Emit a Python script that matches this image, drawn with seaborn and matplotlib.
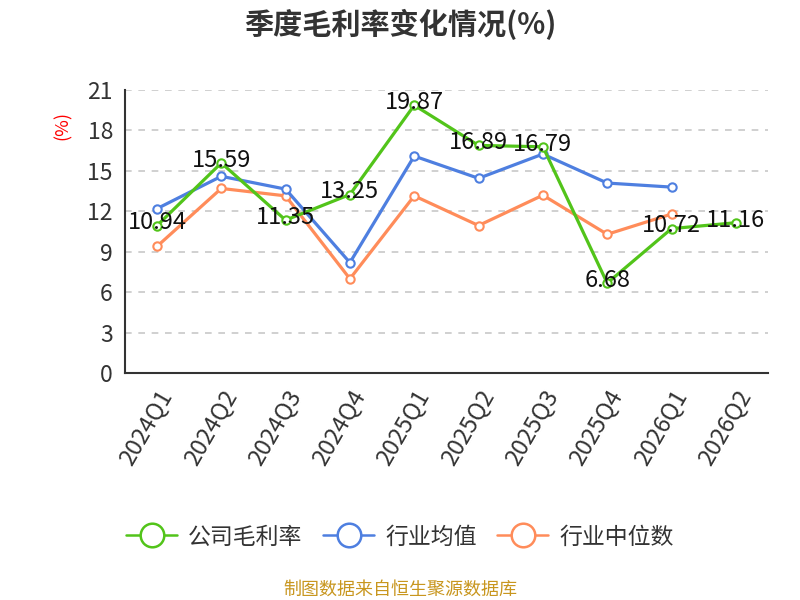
import numpy as np
import pandas as pd
import matplotlib.pyplot as plt
from matplotlib.lines import Line2D
import seaborn as sns

sns.set_style("white")
plt.rcParams['font.family'] = ['Noto Sans CJK SC', 'DejaVu Sans']

quarters = ["2024Q1", "2024Q2", "2024Q3", "2024Q4", "2025Q1",
            "2025Q2", "2025Q3", "2025Q4", "2026Q1", "2026Q2"]
company = [10.94, 15.59, 11.35, 13.25, 19.87, 16.89, 16.79, 6.68, 10.72, 11.16]
industry_avg = [12.2, 14.6, 13.65, 8.2, 16.1, 14.45, 16.25, 14.1, 13.8, np.nan]
industry_median = [9.4, 13.7, 13.15, 7.0, 13.15, 10.95, 13.2, 10.3, 11.8, np.nan]

names = ["公司毛利率", "行业均值", "行业中位数"]
colors = ["#52c41a", "#4e7fe0", "#ff8c5a"]

rows = []
for name, vals in zip(names, [company, industry_avg, industry_median]):
    for i, v in enumerate(vals):
        rows.append({"x": i, "val": v, "series": name})
df = pd.DataFrame(rows).dropna()

fig = plt.figure(figsize=(8, 6), dpi=100)
ax = fig.add_axes([0.156, 0.378, 0.804, 0.472])

for name, col, z in zip(names, colors, [4, 3, 2]):
    sub = df[df.series == name]
    sns.lineplot(data=sub, x="x", y="val", ax=ax, color=col, lw=2.3,
                 marker="o", markersize=6, markerfacecolor="white",
                 markeredgecolor=col, markeredgewidth=1.5, zorder=z,
                 legend=False)

for i, v in enumerate(company):
    ax.text(i, v + 0.2, f"{v:.2f}", ha="center", va="center",
            fontsize=17, color="#111111", zorder=6)

ax.set_xlim(-0.5, 9.5)
ax.set_ylim(0, 21)
ax.set_yticks(range(0, 22, 3))
ax.set_xticks(range(10))
ax.set_xticklabels(quarters, rotation=60, ha="right", rotation_mode="anchor")
ax.set_xticks(np.arange(-0.5, 10, 1), minor=True)
ax.tick_params(axis="x", which="major", length=0, pad=9, labelsize=17, labelcolor="#333333")
ax.tick_params(axis="x", which="minor", length=5, width=1.2, color="#333333")
ax.tick_params(axis="y", length=5, width=1.2, color="#333333", labelsize=16.5, labelcolor="#333333")

ax.grid(axis="y", ls=(0, (4, 4)), color="#c8c8c8", lw=1.2)
for s in ["top", "right"]:
    ax.spines[s].set_visible(False)
for s in ["left", "bottom"]:
    ax.spines[s].set_color("#333333")
    ax.spines[s].set_linewidth(1.5)

ax.set_xlabel("")
ax.set_ylabel("")
fig.text(0.078, 0.79, "(%)", color="red", rotation=90, ha="center", va="center", fontsize=13)

fig.suptitle("季度毛利率变化情况(%)", y=0.985, fontsize=21, fontweight="bold", color="#333333")

handles = [Line2D([], [], color=c, lw=1.8, marker="o", markersize=17,
                  markerfacecolor="white", markeredgecolor=c, markeredgewidth=1.8)
           for c in colors]
ax.legend(handles, names, loc="center", bbox_to_anchor=(0.5, 0.105), bbox_transform=fig.transFigure,
          ncol=3, frameon=False, fontsize=16.5, handlelength=2.2, columnspacing=0.9,
          handletextpad=0.5, labelcolor="#333333")

fig.text(0.5, 0.018, "制图数据来自恒生聚源数据库", ha="center", va="center",
         fontsize=13, color="#c8961e")

fig.savefig("out.png", dpi=100)
